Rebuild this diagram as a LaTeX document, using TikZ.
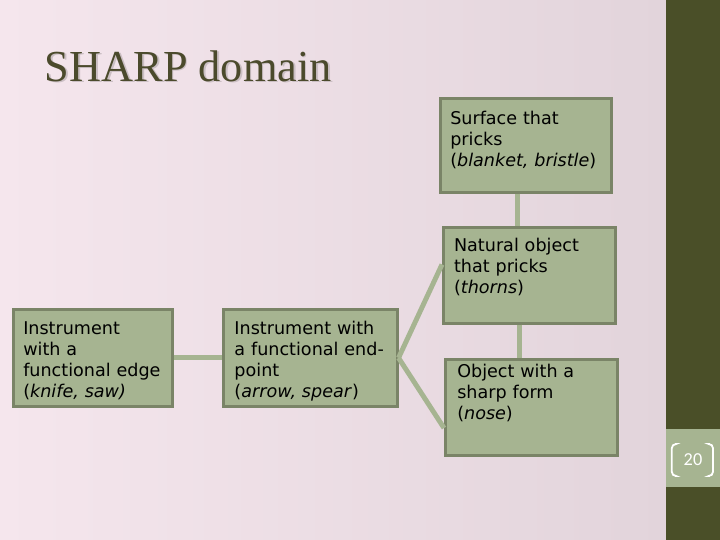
\documentclass[tikz,border=0pt]{standalone}
\usepackage{fontspec}
\usepackage{tikz}
\usetikzlibrary{arrows.meta,positioning,calc}
\newfontfamily\cardfont{DejaVu Sans}
\newfontfamily\headfont{Liberation Serif}
\newfontfamily\numfont{Carlito}
\definecolor{sharpPinkL}{HTML}{F5E6ED}
\definecolor{sharpPinkR}{HTML}{E2D4DB}
\definecolor{sharpOlive}{HTML}{4A4F28}
\definecolor{sharpSage}{HTML}{A6B491}
\definecolor{sharpEdge}{HTML}{7A8467}
\definecolor{sharpTitle}{HTML}{4B4A2C}
\definecolor{sharpShade}{HTML}{CBBFC4}

\tikzset{
  card/.style={draw=sharpEdge,line width=1.8pt,fill=sharpSage,anchor=north west,
               align=left,text height=0.33cm,
               font=\cardfont\fontsize{12.5}{15}\selectfont},
  link/.style={draw=sharpSage,line width=3.5pt},
  numbracket/.style={draw=white,line width=1.3pt,rounded corners=3pt}
}

\begin{document}
\begin{tikzpicture}
  % slide background
  \useasboundingbox (0,0) rectangle (18,-13.5);
  \shade[left color=sharpPinkL,right color=sharpPinkR] (0,0) rectangle (16.65,-13.5);
  \fill[sharpOlive] (16.65,0) rectangle (18,-13.5);
  \fill[sharpSage] (16.65,-10.725) rectangle (18,-12.175);

  % title
  \node[anchor=base west,text=sharpShade,font=\headfont\fontsize{31.5}{36}\selectfont]
    (titleshadow) at (1.04,-2.07) {SHARP domain};
  \node[anchor=base west,text=sharpTitle,font=\headfont\fontsize{31.5}{36}\selectfont]
    (title) at (1.0,-2.03) {SHARP domain};

  % boxes
  \node[card,inner xsep=0.25cm,inner ysep=0.3cm,text width=3.475cm,text depth=1.5cm]
    (edge) at (0.3,-7.7) {Instrument\\with a\\functional edge\\(\textit{knife, saw)}};
  \node[card,inner xsep=0.28cm,inner ysep=0.3cm,text width=3.79cm,text depth=1.5cm]
    (point) at (5.55,-7.7) {Instrument with\\a functional end-\\point\\(\textit{arrow, spear})};
  \node[card,inner xsep=0.25cm,inner ysep=0.325cm,text width=3.775cm,text depth=1.37cm]
    (surface) at (10.975,-2.425) {Surface that\\pricks\\(\textit{blanket, bristle})};
  \node[card,inner xsep=0.27cm,inner ysep=0.275cm,text width=3.76cm,text depth=1.52cm]
    (natural) at (11.05,-5.65) {Natural object\\that pricks\\(\textit{thorns})};
  \node[card,inner xsep=0.3cm,inner ysep=0.125cm,text width=3.7cm,text depth=1.82cm]
    (form) at (11.1,-8.95) {Object with a\\sharp form\\(\textit{nose})};

  % connectors
  \draw[link] (edge.east) -- (point.west);
  \draw[link] ([xshift=-0.21cm]surface.south) -- ([xshift=-0.21cm]surface.south |- natural.north);
  \draw[link] ([xshift=-0.25cm]natural.south) -- ([xshift=-0.25cm]natural.south |- form.north);
  \draw[link] (point.east) -- ([yshift=0.27cm]natural.west);
  \draw[link] (point.east) -- ([yshift=-0.52cm]form.west);

  % page number
  \node[text=white,font=\numfont\fontsize{13}{15}\selectfont] (pnum) at (17.325,-11.5) {20};
  \draw[numbracket] ([xshift=-0.45cm,yshift=0.4cm]pnum.center) -| ([xshift=-0.53cm]pnum.center)
    |- ([xshift=-0.45cm,yshift=-0.4cm]pnum.center);
  \draw[numbracket] ([xshift=0.42cm,yshift=0.4cm]pnum.center) -| ([xshift=0.5cm]pnum.center)
    |- ([xshift=0.42cm,yshift=-0.4cm]pnum.center);
\end{tikzpicture}
\end{document}
